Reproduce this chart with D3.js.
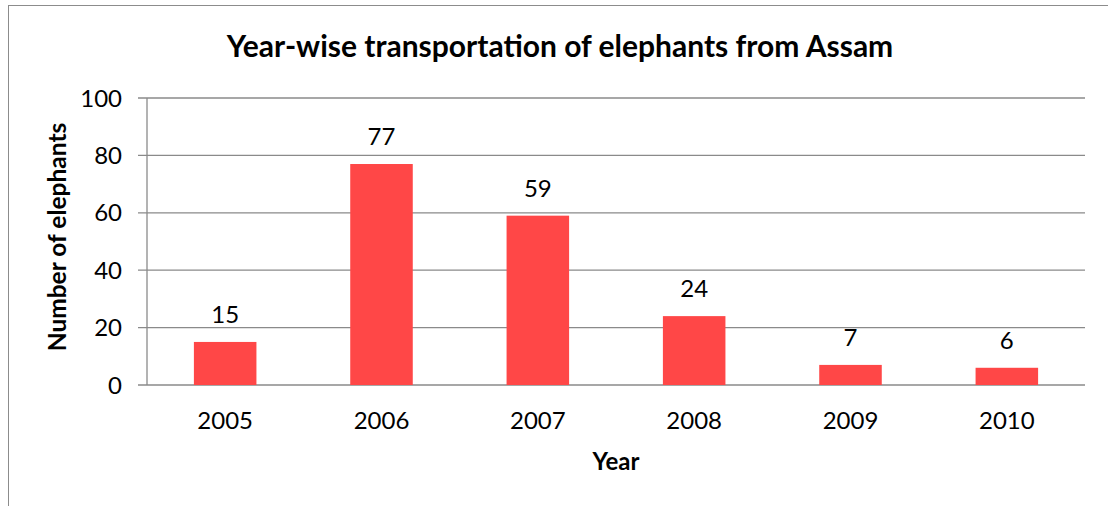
<!DOCTYPE html>
<html>
<head>
<meta charset="utf-8">
<script src="https://cdn.jsdelivr.net/npm/d3@7"></script>
<style>
  body { margin: 0; background: #fff; }
  text { font-family: Lato, "Open Sans", sans-serif; fill: #000; }
</style>
</head>
<body>
<div id="chart"></div>
<script>
const years = ['2005', '2006', '2007', '2008', '2009', '2010'];
const elephants = [15, 77, 59, 24, 7, 6];
const yTicks = [0, 20, 40, 60, 80, 100];

const W = 1108, H = 506;
const margin = {top: 98, right: 23, bottom: 121, left: 147};
const width = W - margin.left - margin.right;
const height = H - margin.top - margin.bottom;

const root = d3.select("#chart").append("svg")
    .attr("width", W)
    .attr("height", H);

// outer chart border (runs off the picture right and bottom)
root.append("rect")
    .attr("x", 8.5).attr("y", 5.5)
    .attr("width", W + 20).attr("height", H + 20)
    .attr("fill", "none")
    .attr("stroke", "#8c8c8c")
    .attr("stroke-width", 1);

const svg = root.append("g")
    .attr("transform", `translate(${margin.left},${margin.top})`);

const band = d3.scaleBand().domain(years).range([0, width]);
const y = d3.scaleLinear().domain([0, 100]).range([height, 0]);

// gridlines
svg.append("g")
    .selectAll("line")
    .data(yTicks)
    .enter().append("line")
    .attr("x1", -9).attr("x2", width)
    .attr("y1", d => y(d)).attr("y2", d => y(d))
    .attr("stroke", "#8a8a8a")
    .attr("stroke-width", 1.3);

// y axis
svg.append("line")
    .attr("x1", 0).attr("x2", 0)
    .attr("y1", 0).attr("y2", height)
    .attr("stroke", "#8a8a8a")
    .attr("stroke-width", 1.3);

svg.append("g")
    .selectAll("text")
    .data(yTicks)
    .enter().append("text")
    .attr("x", -25)
    .attr("y", d => y(d))
    .attr("dy", "0.36em")
    .attr("text-anchor", "end")
    .style("font-size", "24px")
    .text(d => d);

// bars
svg.selectAll(".bar")
    .data(elephants)
    .enter().append("rect")
    .attr("class", "bar")
    .attr("x", (d, i) => band(years[i]) + band.bandwidth() / 2 - band.bandwidth() * 0.2)
    .attr("width", band.bandwidth() * 0.4)
    .attr("y", d => y(d))
    .attr("height", d => height - y(d))
    .attr("fill", "#ff4747");

// value labels
svg.selectAll(".val")
    .data(elephants)
    .enter().append("text")
    .attr("class", "val")
    .attr("x", (d, i) => band(years[i]) + band.bandwidth() / 2)
    .attr("y", d => y(d) - 19)
    .attr("text-anchor", "middle")
    .style("font-size", "24px")
    .text(d => d);

// x labels
svg.append("g")
    .selectAll("text")
    .data(years)
    .enter().append("text")
    .attr("x", d => band(d) + band.bandwidth() / 2)
    .attr("y", height + 44)
    .attr("text-anchor", "middle")
    .style("font-size", "24px")
    .text(d => d);

// axis titles
svg.append("text")
    .attr("x", width / 2)
    .attr("y", height + 85)
    .attr("text-anchor", "middle")
    .style("font-size", "24px")
    .style("font-weight", "bold")
    .text("Year");

root.append("text")
    .attr("transform", "translate(66,237) rotate(-90)")
    .attr("text-anchor", "middle")
    .style("font-size", "24.5px")
    .style("font-weight", "bold")
    .text("Number of elephants");

// title
root.append("text")
    .attr("x", 560)
    .attr("y", 57)
    .attr("text-anchor", "middle")
    .style("font-size", "30px")
    .style("font-weight", "bold")
    .text("Year-wise transportation of elephants from Assam");
</script>
</body>
</html>
